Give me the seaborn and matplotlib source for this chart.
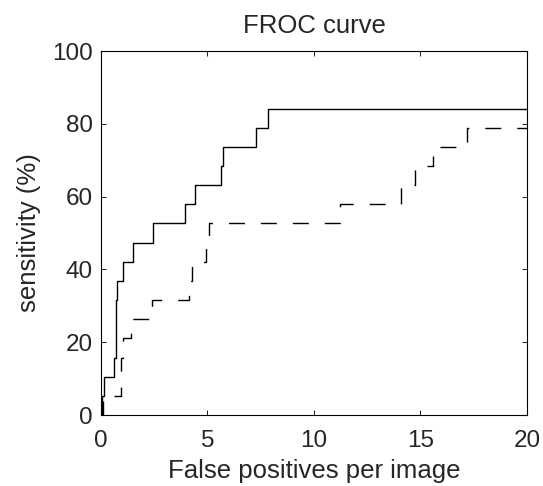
import matplotlib
matplotlib.use("Agg")
import matplotlib.pyplot as plt
import seaborn as sns
import numpy as np
import pandas as pd

# FROC data: false positives per image vs detected lesions (out of 19)
n_lesions = 19
fp_solid = [0, 0.06, 0.16, 0.61, 0.69, 0.74, 1.05, 1.49, 2.43, 3.96, 4.43, 5.62, 5.74, 7.26, 7.86, 20]
hits_solid = [0, 1, 2, 3, 6, 7, 8, 9, 10, 11, 12, 13, 14, 15, 16, 16]
fp_dashed = [0, 0.1, 0.92, 1.05, 1.42, 2.38, 4.15, 4.26, 4.92, 5.05, 11.2, 14.1, 14.74, 15.57, 17.2, 20]
hits_dashed = [0, 1, 3, 4, 5, 6, 7, 8, 9, 10, 11, 12, 13, 14, 15, 15]

x_ticks = [0, 5, 10, 15, 20]
y_ticks = [0, 20, 40, 60, 80, 100]

solid = pd.DataFrame({"fp": fp_solid, "sens": np.array(hits_solid) / n_lesions * 100})
dashed = pd.DataFrame({"fp": fp_dashed, "sens": np.array(hits_dashed) / n_lesions * 100})

sns.set_style("ticks")
plt.rcParams["font.family"] = ["Liberation Sans", "DejaVu Sans"]
plt.rcParams["xtick.direction"] = "in"
plt.rcParams["ytick.direction"] = "in"

fig = plt.figure(figsize=(5.43, 4.86), dpi=100)
ax = fig.add_axes([0.186, 0.146, 0.7845, 0.749])

sns.lineplot(data=solid, x="fp", y="sens", ax=ax, color="black", linewidth=1.0,
             drawstyle="steps-post", sort=False, estimator=None)
line = sns.lineplot(data=dashed, x="fp", y="sens", ax=ax, color="black", linewidth=1.0,
                    drawstyle="steps-post", sort=False, estimator=None).lines[-1]
line.set_dashes((11.5, 11.5))

ax.set_xlim(0, 20)
ax.set_ylim(0, 100)
ax.set_xticks(x_ticks)
ax.set_yticks(y_ticks)
ax.tick_params(axis="both", which="major", labelsize=17.5, length=3.5, width=0.75,
               top=True, right=True, pad=6)
ax.tick_params(axis="x", pad=10.5)
for spine in ax.spines.values():
    spine.set_visible(True)
    spine.set_linewidth(0.8)
    spine.set_color("black")

ax.set_title("FROC curve", fontsize=18.5, pad=13)
ax.set_xlabel("False positives per image", fontsize=18.5, labelpad=5)
ax.set_ylabel("sensitivity (%)", fontsize=18.5, labelpad=8)

plt.savefig("out.png", dpi=100, facecolor="white")
plt.close()
